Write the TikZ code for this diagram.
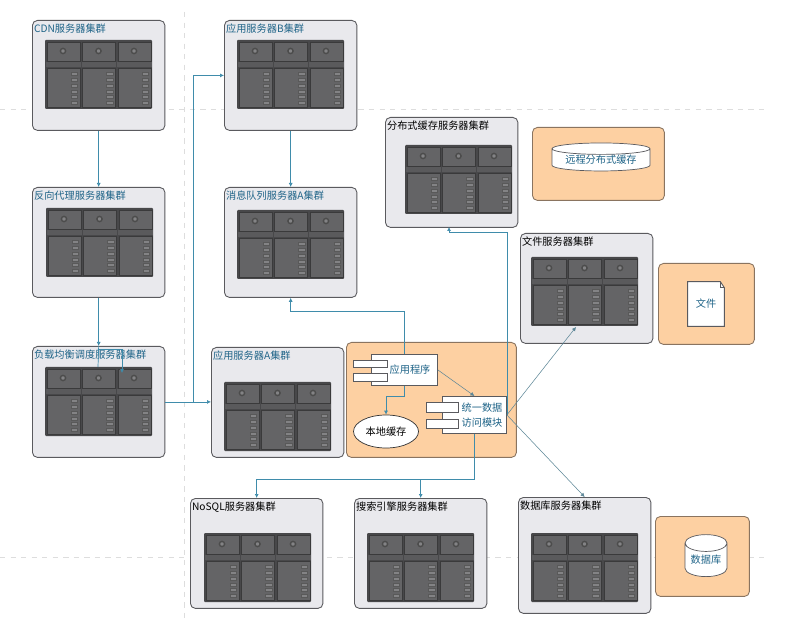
\documentclass[tikz,border=0pt]{standalone}
\usepackage{fontspec}
\setmainfont{Noto Sans CJK SC}
\usetikzlibrary{arrows.meta,shapes.geometric}
\definecolor{boxgray}{HTML}{E9E9ED}
\definecolor{boxedge}{HTML}{5A5A5E}
\definecolor{orangebg}{HTML}{FDD0A2}
\definecolor{orangeedge}{HTML}{8A7460}
\definecolor{rackdark}{HTML}{48484A}
\definecolor{rackmid}{HTML}{646466}
\definecolor{linkblue}{HTML}{3F8CAB}
\definecolor{tealtext}{HTML}{1F6488}
\definecolor{guide}{HTML}{DDDDDD}
\tikzset{
  cluster/.style={draw=boxedge,fill=boxgray,rounded corners=0.1cm,line width=0.5pt,anchor=north west,minimum width=2.65cm,minimum height=2.2cm},
  clustertext/.style={anchor=north west,inner xsep=1pt,inner ysep=2.2pt,font=\fontsize{5.8}{7}\selectfont},
  orangebox/.style={draw=orangeedge,fill=orangebg,rounded corners=0.1cm,line width=0.5pt,anchor=north west},
  partbox/.style={draw=boxedge,fill=white,line width=0.5pt,inner sep=0pt,anchor=north west},
  parttext/.style={text=tealtext,inner sep=0pt,align=center,font=\fontsize{5.8}{8.5}\selectfont},
  drum/.style={draw=boxedge,fill=white,cylinder,shape border rotate=90,inner sep=0pt,text=tealtext,font=\fontsize{5.8}{7}\selectfont},
  link/.style={draw=linkblue,line width=0.4pt,-{Latex[length=0.8mm,width=0.8mm]}},
  plainlink/.style={draw=linkblue,line width=0.4pt},
  sidelink/.style={draw=linkblue!55!gray,line width=0.3pt,-{Latex[length=0.8mm,width=0.8mm]}},
  rack/.pic={
    \fill[rackdark,rounded corners=0.02cm] (0,0) rectangle (107,69);
    \foreach \c in {0,1,2}{
      \begin{scope}[shift={(\c*35.5,0)}]
        \draw[rackdark!80!black,fill=rackmid,line width=0.5pt] (2,2) rectangle (35,21);
        \fill[rackmid!90!black] (1,22) rectangle (35.5,27);
        \draw[rackdark!80!black,fill=rackmid,line width=0.5pt] (2,28) rectangle (35,67);
        \draw[black!70,fill=rackmid!80,line width=0.8pt] (18,11) circle (2.6);
        \foreach \l in {0,...,5}
          \draw[black!65,fill=rackmid!80,line width=0.3pt] (26,32.5+\l*5.8) rectangle (32.5,35.5+\l*5.8);
      \end{scope}
    }
  }
}
\begin{document}
\begin{tikzpicture}[x=0.02cm,y=-0.02cm]
\useasboundingbox (0,0) rectangle (797,634);
\fill[white] (0,0) rectangle (797,634);
% guide lines
\coordinate (g1a) at (0,109);
\coordinate (g1b) at (765,109);
\coordinate (g2a) at (0,557);
\coordinate (g2b) at (765,557);
\coordinate (g3a) at (184,12);
\coordinate (g3b) at (184,620);
\draw[guide,dashed,line width=0.25pt] (g1a)--(g1b) (g2a)--(g2b) (g3a)--(g3b);
% server clusters
\node[cluster] (cdn) at (32,20) {};
\node[cluster] (proxy) at (32,187) {};
\node[cluster,minimum height=2.22cm] (lb) at (32,346) {};
\node[cluster] (appb) at (224,20) {};
\node[cluster] (mq) at (224,187) {};
\node[cluster] (appa) at (211,347) {};
\node[cluster] (cache) at (385,117) {};
\node[cluster] (files) at (520,233) {};
\node[cluster] (nosql) at (190,498) {};
\node[cluster] (search) at (354,498) {};
\node[cluster,minimum height=2.32cm] (dbs) at (518,497) {};
\pic at (45,40) {rack};
\pic at (46,208) {rack};
\pic at (45,367) {rack};
\pic at (237,40) {rack};
\pic at (237,210) {rack};
\pic at (224,382) {rack};
\pic at (405,145) {rack};
\pic at (531,257) {rack};
\pic at (204,533) {rack};
\pic at (367,533) {rack};
\pic at (531,533) {rack};
\node[clustertext,text=tealtext] (cdn_t) at (cdn.north west) {CDN服务器集群};
\node[clustertext,text=tealtext] (proxy_t) at (proxy.north west) {反向代理服务器集群};
\node[clustertext,text=tealtext] (lb_t) at (lb.north west) {负载均衡调度服务器集群};
\node[clustertext,text=tealtext] (appb_t) at (appb.north west) {应用服务器B集群};
\node[clustertext,text=tealtext] (mq_t) at (mq.north west) {消息队列服务器A集群};
\node[clustertext,text=tealtext] (appa_t) at (appa.north west) {应用服务器A集群};
\node[clustertext] (cache_t) at (cache.north west) {分布式缓存服务器集群};
\node[clustertext] (files_t) at (files.north west) {文件服务器集群};
\node[clustertext] (nosql_t) at (nosql.north west) {NoSQL服务器集群};
\node[clustertext] (search_t) at (search.north west) {搜索引擎服务器集群};
\node[clustertext] (dbs_t) at (dbs.north west) {数据库服务器集群};
% orange panels
\node[orangebox,minimum width=3.4cm,minimum height=2.3cm] (local) at (346,342) {};
\node[orangebox,minimum width=2.64cm,minimum height=1.46cm] (remote) at (532,127) {};
\node[orangebox,minimum width=1.92cm,minimum height=1.62cm] (filebg) at (658,263) {};
\node[orangebox,minimum width=1.88cm,minimum height=1.6cm] (dbbg) at (655,516) {};
\node[drum,shape aspect=0.16,minimum width=1.96cm,minimum height=0.56cm] (remote_c) at (601,160) {远程分布式缓存};
\node[drum,shape aspect=0.55,minimum width=0.84cm,minimum height=0.84cm] (db_c) at (706,560) {数据库};
% file sheet with folded corner
\node[parttext,minimum width=0.72cm,minimum height=0.88cm] (file_s) at (706,304) {};
\draw[boxedge,fill=white,line width=0.5pt] (file_s.north west) -- ([xshift=-0.08cm]file_s.north east) -- ([yshift=-0.12cm]file_s.north east) -- (file_s.south east) -- (file_s.south west) -- cycle;
\draw[boxedge,line width=0.4pt] ([xshift=-0.08cm]file_s.north east) -- ([xshift=-0.08cm,yshift=-0.12cm]file_s.north east) -- ([yshift=-0.12cm]file_s.north east);
\node[parttext] (file_l) at (file_s) {文件};
% application parts
\node[partbox,minimum width=1.32cm,minimum height=0.62cm] (prog) at (371,354) {};
\node[partbox,minimum width=0.68cm,minimum height=0.15cm] (prog_p1) at (353,360) {};
\node[partbox,minimum width=0.68cm,minimum height=0.16cm] (prog_p2) at (353,373) {};
\node[parttext] (prog_t) at (410,370) {应用程序};
\node[partbox,minimum width=1.28cm,minimum height=0.74cm] (unify) at (442,396) {};
\node[partbox,minimum width=0.64cm,minimum height=0.2cm] (unify_p1) at (426,402) {};
\node[partbox,minimum width=0.64cm,minimum height=0.18cm] (unify_p2) at (426,419) {};
\node[parttext] (unify_t) at (482,415) {统一数据\\访问模块};
\node[draw=black!80,fill=white,ellipse,minimum width=1.3cm,minimum height=0.66cm,inner sep=0pt,font=\fontsize{5.8}{7}\selectfont] (localcache) at (386,431.5) {本地缓存};
% connectors
\coordinate (lb_in) at (98,367);
\coordinate (lb_br) at (122,373);
\coordinate (lb_top) at (98,349);
\coordinate (lb_fork) at (193,401.5);
\coordinate (cache_in) at (449,227);
\coordinate (files_in) at (576,327);
\draw[link] (cdn.south) -- (proxy.north);
\draw[link] (proxy.south) -- (lb.north);
\draw[plainlink] (lb.north) -- (lb_in);
\draw[link] (lb_top) -| (lb_br);
\draw[link] (lb.east) -- (lb.east -| appa.west);
\draw[link] (lb_fork) |- (appb.west);
\draw[link] (appb.south) -- (mq.north);
\draw[link] (prog.north) -- ++(0,-43) -| (mq.south);
\draw[link] (prog.south) -- ++(0,10) -| (localcache.north);
\draw[sidelink] (prog.east) -- (unify.north);
\draw[link] (unify.east) -- ++(0,-183) -| (cache_in);
\draw[sidelink] (unify.east) -- (files_in);
\draw[sidelink] (unify.east) -- (dbs.north);
\draw[link] (unify.south) -- ++(0,45) -| (nosql.north);
\draw[link] (unify.south) ++(0,45) -| (search.north);
\end{tikzpicture}
\end{document}
